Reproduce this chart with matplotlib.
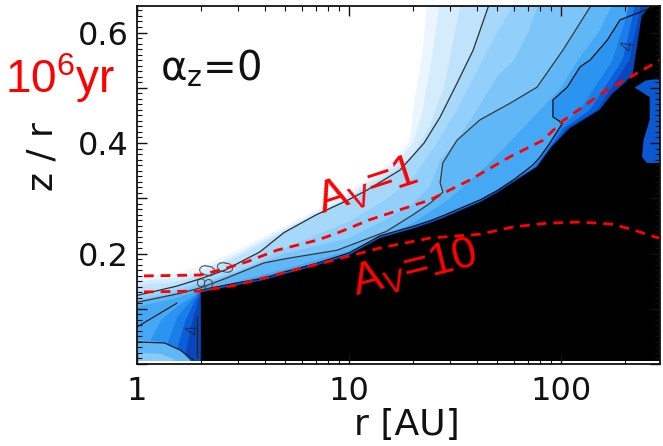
import matplotlib
matplotlib.use("Agg")
import matplotlib.pyplot as plt
from matplotlib.ticker import (FixedLocator, FuncFormatter, LogLocator,
                               MultipleLocator, NullFormatter)

# ---------------------------------------------------------------------------
# Boundaries of the filled abundance levels, given as (r [AU], z/r) polylines.
# Each level fills the region below / to the right of its boundary.
# ---------------------------------------------------------------------------
lvl1_r = [0.9, 1.5, 2, 3, 5, 7, 9.5, 12, 15, 17, 19.4, 20.4, 22.3, 23.5]
lvl1_z = [0.158, 0.163, 0.176, 0.206, 0.25, 0.278, 0.305, 0.333, 0.36, 0.378, 0.405, 0.478, 0.568, 0.66]

lvl2_r = [0.9, 1.5, 2, 3, 5, 7, 9.6, 12, 15, 17, 20, 22, 24.5, 27]
lvl2_z = [0.149, 0.155, 0.168, 0.2, 0.245, 0.274, 0.3, 0.326, 0.35, 0.366, 0.40, 0.45, 0.55, 0.66]

lvl3_r = [0.9, 1.5, 2, 3, 5, 7, 9.7, 12, 15, 17, 20, 24, 28, 34]
lvl3_z = [0.14, 0.148, 0.161, 0.195, 0.241, 0.271, 0.298, 0.32, 0.342, 0.357, 0.378, 0.43, 0.5, 0.66]

# outer contour line (also a level boundary)
c1_r = [0.9, 1.0, 1.54, 1.98, 2.6, 3.8, 4.94, 7, 9.8, 12.2, 17.4, 22.6, 26.9, 32.3, 38.5, 45.3, 46.5]
c1_z = [0.121, 0.124, 0.141, 0.154, 0.17, 0.203, 0.238, 0.27, 0.296, 0.315, 0.351, 0.40, 0.447, 0.508, 0.568, 0.646, 0.66]

lvl5_r = [0.9, 1.5, 2, 3, 5, 10, 15, 20, 25, 32.3, 40, 50, 62]
lvl5_z = [0.117, 0.134, 0.147, 0.168, 0.21, 0.258, 0.298, 0.338, 0.39, 0.46, 0.53, 0.6, 0.66]

lvl6_r = [0.9, 1.5, 2, 3, 5, 10, 15, 20, 24, 27, 33, 40, 50, 60, 70, 80]
lvl6_z = [0.113, 0.129, 0.143, 0.168, 0.2, 0.228, 0.262, 0.29, 0.32, 0.37, 0.41, 0.46, 0.52, 0.55, 0.6, 0.66]

# middle contour line
c2_r = [0.9, 1.6, 2, 2.66, 3.97, 5.1, 8.8, 15, 20, 24.1, 27.7, 26.9, 27.7, 32.3, 41.5, 57.5, 77, 102, 137, 141]
c2_z = [0.108, 0.128, 0.138, 0.156, 0.183, 0.191, 0.206, 0.24, 0.27, 0.291, 0.311, 0.328, 0.364, 0.405, 0.442, 0.472, 0.501, 0.568, 0.646, 0.66]

lvl8_r = [0.9, 1.5, 2, 3, 5, 10, 20, 30, 45, 60, 80, 100, 120, 150, 180]
lvl8_z = [0.10, 0.118, 0.134, 0.15, 0.172, 0.205, 0.255, 0.3, 0.36, 0.41, 0.46, 0.50, 0.55, 0.6, 0.66]

# inner contour line near the dense layer
c3_r = [2, 3, 4, 5, 7, 10, 14, 20, 24, 28, 34, 41.5, 50, 60, 73.6, 79.7, 88.6, 101.6, 91.6,
        91.6, 107, 123, 137, 165, 190, 240, 272, 285]
c3_z = [0.134, 0.147, 0.156, 0.167, 0.182, 0.201, 0.232, 0.249, 0.259, 0.269, 0.283, 0.297, 0.314,
        0.334, 0.36, 0.375, 0.40, 0.436, 0.447, 0.478, 0.501, 0.538, 0.55, 0.586, 0.623, 0.638, 0.646, 0.66]
c3_left_r = [1.1, 1.15, 1.3, 1.6, 1.85]
c3_left_z = [-0.1, 0.04, 0.08, 0.108, 0.123]

lvl10_r = [1.35, 1.4, 1.55, 1.8, 2, 3, 5, 10, 14, 20, 28, 41.5, 60, 75, 98, 123, 175, 200, 212]
lvl10_z = [-0.1, 0.04, 0.085, 0.115, 0.133, 0.146, 0.166, 0.2, 0.231, 0.248, 0.268, 0.296, 0.333,
           0.358, 0.427, 0.46, 0.55, 0.62, 0.66]

lvl11_r = [1.5, 1.55, 1.7, 1.85, 2, 3, 5, 10, 14, 20, 28, 41.5, 60, 76, 103, 137, 195, 215, 226]
lvl11_z = [-0.1, 0.03, 0.08, 0.11, 0.132, 0.145, 0.165, 0.199, 0.23, 0.247, 0.267, 0.295, 0.332,
           0.357, 0.427, 0.46, 0.55, 0.62, 0.66]

lvl12_r = [1.65, 1.7, 1.8, 1.9, 2, 3, 5, 10, 14, 20, 28, 41.5, 60, 77, 107, 148, 210, 230, 240]
lvl12_z = [-0.1, 0.02, 0.07, 0.1, 0.131, 0.144, 0.164, 0.198, 0.229, 0.246, 0.266, 0.294, 0.331,
           0.3575, 0.427, 0.46, 0.55, 0.62, 0.66]

# top of the opaque (black) layer
dense_r = [2, 2, 3, 4, 5, 7, 10, 14, 20, 24, 28, 34, 41.5, 50, 60, 77, 90, 110, 152, 175, 200,
           218, 225, 240, 260, 275]
dense_z = [-0.1, 0.13, 0.143, 0.152, 0.163, 0.178, 0.197, 0.228, 0.245, 0.255, 0.265, 0.279,
           0.293, 0.31, 0.33, 0.357, 0.393, 0.427, 0.46, 0.49, 0.509, 0.525, 0.56, 0.63, 0.645, 0.66]

# lighter pockets close to the midplane at small radii
pocket1_r = [0.9, 1.3, 1.6, 1.8, 1.85]
pocket1_z = [0.045, 0.04, 0.025, 0.005, -0.1]
pocket2_r = [0.9, 1.3, 1.5, 1.6]
pocket2_z = [0.022, 0.018, 0.008, -0.1]

# isolated patch in the outer midplane
patch_r = [222, 250, 272, 300, 300, 254, 241, 245, 262, 262, 235]
patch_z = [0.50, 0.513, 0.515, 0.515, 0.364, 0.364, 0.375, 0.405, 0.442, 0.483, 0.495]

# extra contour segments in the inner disk
seg1_r, seg1_z = [1.0, 1.54], [0.067, 0.110]
seg2_r, seg2_z = [1.0, 1.35, 1.6, 1.85], [0.040, 0.038, 0.025, 0.007]
seg3_r, seg3_z = [1.92, 1.92], [0.085, 0.013]

# visual extinction surfaces
av1_r = [0.9, 1.98, 2.46, 3.3, 4.57, 7.06, 8.8, 12.5, 24.1, 37.1, 57.4, 82.2, 102, 164, 211, 300]
av1_z = [0.159, 0.161, 0.170, 0.185, 0.206, 0.224, 0.237, 0.261, 0.297, 0.333, 0.375, 0.405,
         0.44, 0.496, 0.519, 0.552]
av10_r = [0.9, 1.98, 2.96, 5.1, 8.1, 14.0, 24.1, 41.6, 59.3, 86, 123, 176, 218, 277, 300]
av10_z = [0.130, 0.132, 0.143, 0.167, 0.186, 0.210, 0.228, 0.235, 0.248, 0.255, 0.257, 0.253,
          0.243, 0.230, 0.227]

x_ticks = [1, 10, 100]
y_label_ticks = [0.2, 0.4, 0.6]

W, H = 663, 446
fig = plt.figure(figsize=(W / 100, H / 100), dpi=100)
ax = fig.add_axes([137 / W, 1 - 364 / H, (660 - 137) / W, (364 - 6) / H])
ax.set_xscale("log")
ax.set_xlim(1, 293)
ax.set_ylim(0, 0.648)


def fill_below(r, z, color):
    rr = list(r) + [1000, 1000, 0.5, 0.5]
    zz = list(z) + [0.8, -0.2, -0.2, z[0]]
    ax.fill(rr, zz, color=color, lw=0, zorder=1)


levels = [
    (lvl1_r, lvl1_z, "#eaf5fd"),
    (lvl2_r, lvl2_z, "#d4ecfc"),
    (lvl3_r, lvl3_z, "#bfe3fb"),
    (c1_r, c1_z, "#a6d8fa"),
    (lvl5_r, lvl5_z, "#92cffa"),
    (lvl6_r, lvl6_z, "#7cc5f9"),
    (c2_r, c2_z, "#5fb7f6"),
    (lvl8_r, lvl8_z, "#44a8f4"),
    (c3_left_r + c3_r, c3_left_z + c3_z, "#2a94f0"),
    (lvl10_r, lvl10_z, "#1a7ee8"),
    (lvl11_r, lvl11_z, "#0a5ed8"),
    (lvl12_r, lvl12_z, "#0846bc"),
]
for r, z, c in levels:
    fill_below(r, z, c)

ax.fill(pocket1_r + [0.5, 0.5], pocket1_z + [-0.2, pocket1_z[0]], color="#5fb7f6", lw=0, zorder=1)
ax.fill(pocket2_r + [0.5, 0.5], pocket2_z + [-0.2, pocket2_z[0]], color="#88cbfa", lw=0, zorder=1)

fill_below(dense_r, dense_z, "#000000")
ax.fill(patch_r, patch_z, color="#0a58d2", lw=0, zorder=1)

# thin white strip along the bottom axis
ax.axhspan(0, 0.006, color="white", lw=0, zorder=1.5)

# contour lines
ax.plot(c1_r, c1_z, color="#2e2e2e", lw=0.9, zorder=2)
ax.plot(c2_r, c2_z, color="#383838", lw=0.9, zorder=2)
ax.plot(c3_r, c3_z, color="#101010", lw=0.9, zorder=2)
for r, z in [(seg1_r, seg1_z), (seg2_r, seg2_z), (seg3_r, seg3_z)]:
    ax.plot(r, z, color="#202020", lw=0.9, zorder=2)

# contour labels
ax.text(2.15, 0.163, "80", color="#404040", fontsize=16, rotation=80, fontweight=200,
        ha="center", va="center", zorder=2)
ax.text(2.63, 0.180, "0", color="#404040", fontsize=16, rotation=80, fontweight=200,
        ha="center", va="center", zorder=2)
ax.text(1.84, 0.062, "4", color="#102040", fontsize=13, rotation=90, fontweight=200,
        ha="center", va="center", zorder=2)
ax.text(207, 0.577, "4", color="#102040", fontsize=13, rotation=80, fontweight=200,
        ha="center", va="center", zorder=2)

# A_V surfaces
ax.plot(av1_r, av1_z, color="#ff0000", lw=2.0, dashes=(3.5, 2.5), zorder=3)
ax.plot(av10_r, av10_z, color="#ff0000", lw=2.0, dashes=(3.5, 2.5), zorder=3)

red_font = ["Liberation Sans", "DejaVu Sans"]
ax.text(12.2, 0.320, r"$\mathregular{A_V}$=1", color="#ff0000", fontsize=32,
        family=red_font, rotation=18, rotation_mode="anchor",
        ha="center", va="center", zorder=4)
ax.text(20.5, 0.172, r"$\mathregular{A_V}$=10", color="#ff0000", fontsize=32,
        family=red_font, rotation=14, rotation_mode="anchor",
        ha="center", va="center", zorder=4)

fig.text(5 / W, 1 - 93 / H, r"$\mathregular{10^6yr}$", color="#ff0000", fontsize=33,
         family=red_font, ha="left", va="baseline")
fig.text(160 / W, 1 - 80 / H, r"$\mathregular{\alpha_z}$=0", color="#111111", fontsize=29,
         ha="left", va="baseline")

# axes styling
ax.xaxis.set_major_locator(FixedLocator(x_ticks))
ax.xaxis.set_major_formatter(FuncFormatter(lambda v, p: f"{v:g}"))
ax.xaxis.set_minor_locator(LogLocator(base=10, subs=range(2, 10), numticks=20))
ax.xaxis.set_minor_formatter(NullFormatter())
ax.yaxis.set_major_locator(MultipleLocator(0.1))
ax.yaxis.set_major_formatter(FuncFormatter(
    lambda v, p: f"{v:.1f}" if any(abs(v - t) < 1e-6 for t in y_label_ticks) else ""))
ax.yaxis.set_minor_locator(MultipleLocator(0.01))

ax.tick_params(which="both", direction="in", top=True, right=True, color="#111111")
ax.tick_params(which="major", length=7, width=1.0, labelsize=23, labelcolor="#111111")
ax.tick_params(which="minor", length=3.5, width=0.8)
ax.tick_params(axis="x", which="major", pad=9)
ax.tick_params(axis="y", which="major", pad=6)
for s in ax.spines.values():
    s.set_linewidth(1.3)
    s.set_color("#111111")
    s.set_zorder(5)

ax.set_xlabel("r [AU]", fontsize=26, color="#111111")
ax.xaxis.set_label_coords((407 - 137) / (660 - 137), -(425 - 364) / (364 - 6))
ax.set_ylabel("z / r", fontsize=26, color="#111111")
ax.yaxis.set_label_coords(-(137 - 42) / (660 - 137), (364 - 157) / (364 - 6))
ax.xaxis.label.set_va("center")
ax.yaxis.label.set_va("center")

fig.savefig("out.png", dpi=100)
